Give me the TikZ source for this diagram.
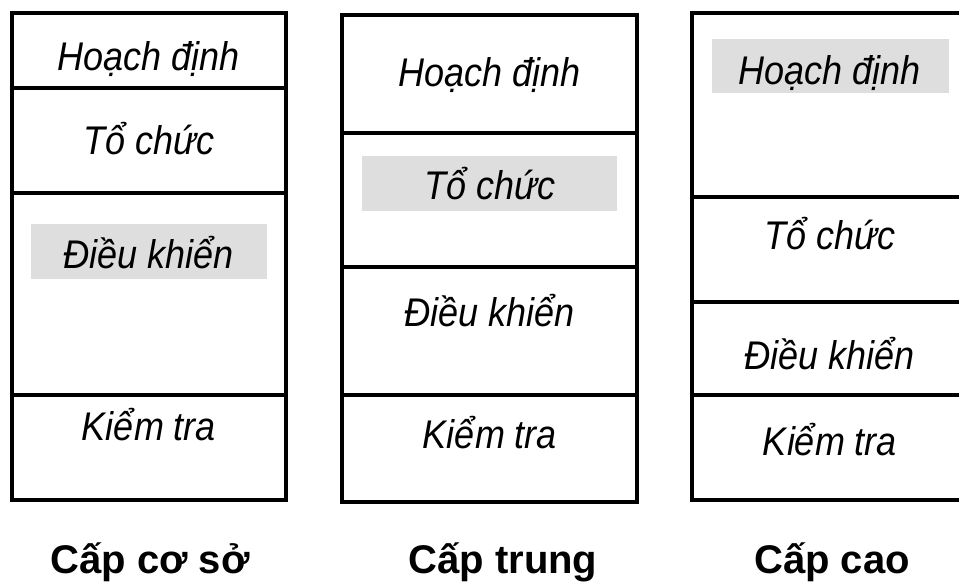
\documentclass[tikz,border=0pt]{standalone}
\usepackage{fontspec}
\setmainfont{Liberation Sans}
\newfontfamily\narrowsf{Liberation Sans}[FakeStretch=0.9]
\definecolor{bandgray}{HTML}{DEDEDE}
\tikzset{task/.style={font=\narrowsf\fontsize{40}{46}\selectfont\itshape,inner sep=0pt,anchor=base},
  level/.style={font=\fontsize{40}{46}\selectfont\bfseries,inner sep=0pt,anchor=base}}

\begin{document}
\begin{tikzpicture}[x=1pt,y=-1pt,line width=3.5pt]
    \useasboundingbox (0,0) rectangle (959,585);
    \clip (0,0) rectangle (959,585);
    % Cap co so
    \fill[bandgray] (31,224) rectangle (267,279);
    \draw (12,13) rectangle (286,500);
    \draw (12,88)--(286,88);
    \draw (12,193)--(286,193);
    \draw (12,395)--(286,395);
    \node[task] (hd1) at (149,71) {Hoạch định};
    \node[task] (tc1) at (149,155) {Tổ chức};
    \node[task] (dk1) at (149,269) {Điều khiển};
    \node[task] (kt1) at (149,440) {Kiểm tra};
    \node[level] (cs) at (150,573) {Cấp cơ sở};
    % Cap trung
    \fill[bandgray] (362,156) rectangle (617,211);
    \draw (342,15) rectangle (637,502);
    \draw (342,133)--(637,133);
    \draw (342,267)--(637,267);
    \draw (342,395)--(637,395);
    \node[task] (hd2) at (490,87) {Hoạch định};
    \node[task] (tc2) at (490,200) {Tổ chức};
    \node[task] (dk2) at (490,327) {Điều khiển};
    \node[task] (kt2) at (490,448) {Kiểm tra};
    \node[level] (ct) at (503,573) {Cấp trung};
    % Cap cao
    \fill[bandgray] (712,39) rectangle (949,93);
    \draw (692,13) rectangle (969,500);
    \draw (692,197)--(969,197);
    \draw (692,302)--(969,302);
    \draw (692,395)--(969,395);
    \node[task] (hd3) at (830,85) {Hoạch định};
    \node[task] (tc3) at (830,250) {Tổ chức};
    \node[task] (dk3) at (830,370) {Điều khiển};
    \node[task] (kt3) at (830,455) {Kiểm tra};
    \node[level] (cc) at (832,573) {Cấp cao};
  \end{tikzpicture}
\end{document}
